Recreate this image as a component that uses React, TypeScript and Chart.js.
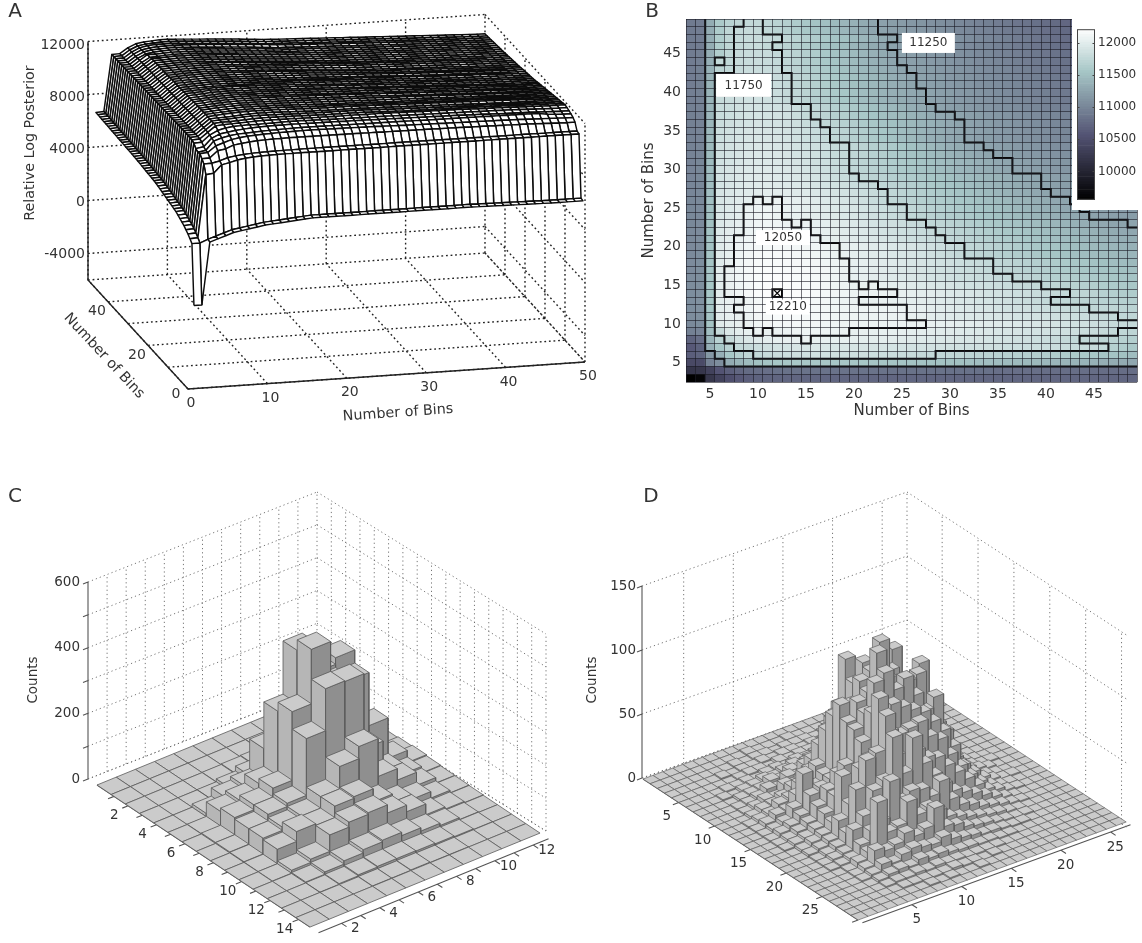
import React, { useEffect, useRef } from "react";
import { Chart, registerables } from "chart.js";
Chart.register(...registerables);

const FONT = '"DejaVu Sans", sans-serif';
const INK = "#333";

// Panel A / B: log posterior as (value - 9000) / 10. Rows run y = 49 .. 3, columns x = 3 .. 49.
const POSTERIOR_ROWS: number[][] = [
[190,192,232,258,268,272,276,276,273,269,265,261,257,253,249,245,241,236,231,226,223,220,218,215,213,210,207,205,202,199,197,194,192,189,186,184,181,178,176,173,171,168,165,163,160,158,155],
[190,192,232,260,272,277,278,277,273,269,265,261,257,253,249,245,241,236,231,226,224,221,219,216,214,211,208,206,203,201,198,196,193,190,188,185,183,180,177,175,172,170,167,165,162,160,157],
[190,192,233,261,272,277,279,279,278,276,273,269,265,261,257,253,249,245,241,236,231,226,224,221,218,216,213,210,208,205,202,199,197,194,191,189,186,183,180,178,175,172,170,167,164,162,159],
[190,192,233,262,273,277,279,280,276,274,270,266,262,258,254,250,246,241,236,231,226,224,221,219,216,214,211,209,206,204,201,199,196,194,191,189,186,184,181,179,176,174,171,169,166,164,161],
[191,193,234,263,273,278,280,280,279,276,273,269,265,261,257,253,249,245,241,236,231,226,224,221,219,216,214,211,209,206,203,201,198,196,193,191,188,186,183,181,178,175,173,170,168,165,163],
[191,193,235,276,274,278,280,281,279,276,273,269,265,261,257,253,249,245,241,236,231,226,224,222,219,217,214,212,209,207,204,202,199,197,194,192,189,187,184,182,179,177,174,172,170,167,165],
[191,194,236,270,274,278,281,281,280,277,274,270,266,262,258,254,250,246,242,238,234,230,226,224,221,219,216,214,211,209,206,204,201,199,196,194,191,189,186,184,181,179,176,174,172,169,167],
[192,194,237,277,279,281,283,283,282,280,277,274,270,266,262,258,254,250,246,242,238,234,230,226,224,221,219,216,214,211,209,206,204,201,199,196,194,191,189,186,184,181,179,176,174,171,169],
[192,195,238,278,280,282,284,284,283,281,277,274,270,266,262,258,254,250,246,242,238,234,230,226,224,222,219,217,214,212,209,207,205,202,200,197,195,192,190,187,185,183,180,178,175,173,171],
[193,195,238,278,281,283,285,285,284,281,277,274,270,266,263,259,255,251,247,243,239,235,232,229,226,224,221,219,216,214,211,209,206,204,201,199,196,194,191,189,186,184,181,179,178,175,173],
[193,196,239,279,281,284,286,286,285,282,277,274,270,266,263,259,255,251,247,243,239,235,232,229,226,224,222,219,217,214,212,210,207,205,202,200,198,195,193,190,188,186,183,181,178,177,176],
[194,196,240,280,282,285,287,288,287,286,284,281,277,274,270,266,262,258,254,250,246,242,238,234,230,226,224,221,219,217,214,212,209,207,205,202,200,197,195,193,190,188,185,183,181,180,178],
[194,197,241,280,283,286,288,289,288,287,285,281,277,274,271,267,264,260,257,253,250,246,243,239,236,232,229,226,224,221,219,216,214,211,209,206,204,201,199,196,194,191,189,186,184,183,181],
[195,197,241,281,284,287,289,290,289,288,286,284,280,277,274,271,267,264,260,257,253,250,246,243,239,236,232,229,226,224,221,219,216,214,211,209,206,204,201,199,196,194,191,189,186,185,183],
[195,198,242,282,285,288,290,291,290,289,287,285,283,280,277,274,270,266,263,259,255,251,247,243,239,235,232,229,226,224,222,219,217,214,212,209,207,205,202,200,197,195,193,191,189,187,186],
[196,198,243,283,286,289,291,292,291,290,288,286,283,280,277,274,270,266,263,259,255,251,247,243,239,235,232,229,226,224,222,219,217,215,212,210,208,205,203,201,198,196,194,192,190,189,188],
[196,199,244,284,287,290,292,293,293,292,290,288,286,284,282,279,277,274,270,266,263,259,255,251,247,243,239,235,232,229,226,224,222,219,217,214,212,210,207,205,203,200,198,196,194,192,191],
[197,199,245,285,288,291,293,294,294,293,291,289,287,285,282,279,277,274,271,267,264,260,257,253,250,246,243,239,236,232,229,226,224,222,219,217,215,212,210,208,206,203,201,199,197,195,194],
[197,200,245,286,289,292,294,295,295,294,292,290,288,285,283,280,277,274,271,268,265,262,259,256,253,250,247,244,241,238,235,232,229,226,224,222,220,217,215,213,211,208,206,204,202,199,197],
[198,200,246,287,290,293,295,296,296,295,293,291,289,286,283,280,277,274,271,268,265,262,259,256,253,250,247,244,241,238,235,232,229,226,224,222,220,218,216,214,212,210,208,206,204,202,200],
[198,201,247,288,291,294,296,297,297,296,295,293,291,289,286,283,280,277,274,271,269,266,263,261,258,255,253,250,247,245,242,239,237,234,231,229,226,224,222,220,218,216,213,211,209,206,203],
[199,201,248,289,292,295,297,298,298,297,296,295,293,291,289,287,284,282,279,277,274,271,268,265,262,259,256,253,250,247,244,241,238,235,232,229,226,224,222,220,219,217,215,213,211,208,206],
[199,202,248,290,293,296,298,299,300,300,299,297,296,294,292,290,287,285,282,279,277,274,271,268,265,262,259,256,253,250,247,244,241,238,235,232,229,226,224,222,220,218,216,214,213,211,209],
[200,202,249,291,294,298,301,306,304,306,304,302,300,298,295,293,290,287,284,280,277,274,271,269,266,263,261,258,255,253,250,247,245,242,239,237,234,231,229,226,224,222,220,218,216,214,212],
[200,203,249,292,296,300,306,307,308,306,304,303,301,299,297,295,293,291,288,285,282,279,277,274,271,268,265,262,259,256,253,251,248,245,242,239,236,234,231,228,226,224,222,220,219,217,215],
[201,203,250,293,297,301,306,308,309,307,304,303,302,300,298,296,294,292,289,286,283,280,277,274,271,269,266,263,261,258,255,253,250,247,245,242,239,237,234,231,229,226,224,223,222,220,219],
[201,204,250,294,298,302,306,309,310,309,306,304,306,303,301,299,297,295,292,289,286,284,281,279,277,274,272,269,267,264,262,259,257,254,252,249,247,244,241,239,236,234,231,229,226,225,224],
[202,204,251,295,299,303,307,310,311,311,309,308,307,304,302,300,298,296,294,291,288,285,283,281,279,277,274,272,269,267,265,262,260,257,255,253,250,248,245,243,241,238,236,233,231,229,228],
[202,205,252,296,301,306,309,312,313,313,312,310,308,306,303,301,299,297,295,293,290,288,285,283,281,279,277,274,272,269,267,265,262,260,258,255,253,251,248,246,244,241,239,237,235,233,232],
[203,205,252,297,302,307,310,313,314,314,313,312,311,309,308,306,304,302,300,298,296,294,292,290,287,285,282,279,277,274,272,269,267,265,262,260,257,255,253,250,248,246,244,242,240,238,236],
[203,206,253,297,303,308,311,314,315,315,314,313,312,310,308,306,304,302,300,298,296,294,292,290,288,285,282,279,277,274,272,270,267,265,263,261,258,256,254,252,249,247,246,245,243,241,240],
[204,206,253,298,304,309,312,315,316,316,315,314,313,311,310,308,306,304,302,300,298,296,294,292,290,288,286,284,282,280,278,276,274,272,269,267,265,263,261,259,257,255,252,250,248,246,244],
[204,207,254,299,305,310,313,316,317,317,316,315,314,312,311,309,306,304,302,300,298,296,294,292,290,288,286,284,282,280,278,276,274,272,270,268,266,264,262,260,258,256,254,253,252,250,249],
[205,207,254,299,305,310,313,316,318,318,317,316,315,313,311,309,306,304,302,300,298,296,295,293,291,289,287,285,283,282,280,279,277,276,274,272,270,268,266,265,263,261,259,258,256,254,253],
[205,208,255,300,305,310,313,316,318,319,318,317,316,314,312,310,308,306,304,305,303,301,299,297,295,293,292,290,288,286,285,283,281,280,278,277,276,274,272,270,268,266,264,262,260,259,257],
[206,208,255,300,305,310,314,317,319,321,319,318,317,315,313,311,309,307,306,306,306,305,304,302,300,299,297,295,293,292,290,288,287,285,283,282,280,279,277,276,274,272,270,267,265,263,261],
[206,209,255,300,304,304,308,313,317,319,318,317,315,313,311,309,307,306,304,304,304,303,303,301,299,298,296,294,292,291,289,288,286,284,282,280,278,276,274,273,271,270,269,268,267,266,265],
[206,209,255,300,304,306,310,314,317,318,317,316,315,313,311,310,309,308,308,308,307,307,306,304,302,300,298,296,295,293,291,290,288,286,285,284,282,281,280,278,277,276,274,273,272,270,269],
[205,208,254,299,303,304,307,311,314,316,316,315,314,313,312,310,309,308,307,307,307,306,306,304,302,300,298,296,295,294,293,292,291,290,289,288,287,286,285,284,283,281,279,277,276,274,273],
[203,206,252,297,301,304,306,309,311,313,313,313,312,311,310,309,308,308,307,307,307,307,306,306,306,304,303,302,301,300,299,298,297,296,295,293,292,290,289,288,287,285,283,281,279,278,277],
[195,198,248,278,293,300,303,306,304,306,307,308,309,309,308,307,306,304,304,303,303,302,302,301,300,299,298,297,296,295,294,293,292,291,290,289,288,287,286,285,284,282,280,278,276,274,272],
[170,180,240,268,277,287,293,298,301,303,304,304,306,304,304,303,303,302,301,300,300,299,298,297,296,295,294,293,292,291,290,289,288,287,285,284,283,281,279,277,276,274,273,271,269,267,265],
[160,168,235,255,268,276,278,282,285,288,289,291,292,293,293,292,292,291,291,290,290,289,289,288,288,287,287,286,286,285,285,284,284,283,283,282,282,281,281,280,280,279,278,276,266,262,258],
[165,170,215,235,255,265,272,276,279,281,283,284,285,286,286,286,285,284,284,283,282,281,280,279,277,276,274,273,272,271,270,269,268,267,266,265,264,263,262,261,260,258,256,254,252,250,247],
[143,145,195,205,230,238,245,250,253,255,256,257,257,257,256,256,256,255,255,254,254,253,253,252,252,251,251,250,250,249,248,248,247,246,245,244,243,242,241,240,239,238,236,234,232,230,228],
[120,122,135,155,165,172,176,178,180,181,182,182,183,183,183,183,183,183,183,183,183,182,182,182,182,182,182,181,181,181,181,181,180,180,180,180,180,179,179,179,179,179,178,178,178,178,178],
[56,62,122,135,150,160,165,168,170,171,172,172,172,172,172,172,172,172,172,172,172,172,172,172,172,172,172,172,172,172,172,172,172,172,172,172,172,172,172,172,172,172,172,172,172,172,172],
];
// Panel A rim of the surface: z along x = 1 for y = 1..50, and along y = 1 for x = 1..50.
const RIM_ALONG_Y = [100,4600,4800,5000,5150,5300,5400,5500,5600,5700,5750,5800,5850,5900,5950,6000,6050,6100,6150,6200,6220,6240,6260,6280,6300,6320,6340,6360,6380,6400,6410,6420,6430,6440,6450,6460,6470,6480,6490,6500,6510,6520,6530,6540,6550,6560,6570,6580,6590,6600];
const RIM_ALONG_X = [100,4600,4800,5000,5200,5400,5500,5600,5700,5800,5850,5900,5950,6000,6050,6100,6100,6100,6100,6100,6100,6100,6100,6100,6100,6100,6100,6100,6100,6100,6100,6100,6100,6100,6100,6100,6090,6080,6070,6060,6050,6040,6030,6020,6010,6000,6000,6000,6000,6000];
const CONTOUR_LEVELS = [11250, 11750, 12050, 12210];
const CONTOUR_LABELS = [
  { text: "11750", x: 8.5, y: 40.9, w: 55, h: 23 },
  { text: "11250", x: 27.75, y: 46.4, w: 53, h: 20 },
  { text: "12050", x: 12.6, y: 21.2, w: 54, h: 15 },
  { text: "12210", x: 13.1, y: 12.2, w: 44, h: 15 },
];
const BIN_TICKS = [5, 10, 15, 20, 25, 30, 35, 40, 45];
const COLORBAR_TICKS = [10000, 10500, 11000, 11500, 12000];
const COLOR_MIN = 9560;
const COLOR_MAX = 12210;

// Panel C: counts, rows r = 0..14, columns c = 0..11.
const COUNTS_C: number[][] = [
[0,0,0,0,0,0,0,0,0,0,0,0],
[0,0,0,0,0,0,0,1,1,0,0,0],
[0,0,0,0,1,3,5,8,5,2,1,0],
[0,0,0,1,10,25,30,40,25,15,3,1],
[0,0,10,35,46,136,110,70,60,40,10,2],
[0,1,45,55,82,278,440,350,370,90,30,5],
[0,3,55,70,97,306,472,340,330,168,45,8],
[0,3,50,70,80,253,381,379,150,60,25,5],
[0,2,50,60,70,105,173,210,95,60,20,3],
[0,1,45,75,70,105,110,70,45,30,10,2],
[0,1,10,20,70,85,90,65,45,12,5,1],
[0,0,3,10,20,30,35,25,15,8,2,0],
[0,0,1,3,6,8,8,7,5,3,1,0],
[0,0,0,0,1,1,2,1,1,0,0,0],
[0,0,0,0,0,0,0,0,0,0,0,0],
];
// Panel D: counts, rows r = 0..29, columns c = 0..26.
const COUNTS_D: number[][] = [
[0,0,0,0,0,0,0,0,0,0,0,0,0,0,0,0,0,0,0,0,0,0,0,0,0,0,0],
[0,0,0,0,0,0,0,0,0,1,0,0,0,1,0,0,0,0,0,0,0,0,0,0,0,0,0],
[0,0,0,0,0,0,0,1,0,1,1,0,1,1,1,0,1,0,0,0,0,0,0,0,0,0,0],
[0,0,0,0,0,1,0,1,1,2,1,2,2,1,2,1,1,1,0,0,0,0,0,0,0,0,0],
[0,0,0,0,0,0,1,2,2,1,3,2,3,3,2,2,2,1,1,0,1,0,0,0,0,0,0],
[0,0,0,0,1,1,2,1,3,4,3,5,4,5,4,3,2,3,1,1,0,0,0,0,0,0,0],
[0,0,0,1,0,2,3,5,4,6,8,6,8,5,6,6,4,3,2,1,1,0,0,0,0,0,0],
[0,0,0,0,2,3,4,8,6,10,9,14,10,12,9,10,6,5,3,2,1,1,0,0,0,0,0],
[0,0,0,1,2,4,8,6,12,10,18,15,24,20,16,18,10,8,6,4,2,1,0,0,0,0,0],
[0,0,0,1,3,6,5,12,10,22,18,35,28,30,32,22,25,14,10,8,3,1,1,0,0,0,0],
[0,0,0,2,5,6,9,14,18,30,25,55,40,60,45,50,30,28,15,10,6,3,1,0,0,0,0],
[0,0,1,3,5,10,12,20,28,45,55,70,75,85,70,68,50,40,22,15,8,4,2,1,0,0,0],
[0,0,1,4,8,9,18,24,35,60,70,110,85,95,90,85,75,55,35,20,10,6,2,1,0,0,0],
[0,0,1,3,6,14,38,26,32,75,80,95,108,100,95,110,80,70,40,25,12,5,3,1,0,0,0],
[0,0,1,4,7,12,25,28,32,87,85,100,105,125,100,90,88,97,45,22,14,6,3,1,1,0,0],
[0,0,1,3,6,10,20,30,40,77,90,95,123,100,95,92,95,70,50,28,15,7,4,2,0,0,0],
[0,0,1,3,5,9,18,29,50,75,85,106,111,95,101,85,70,78,48,24,12,6,3,1,0,0,0],
[0,0,0,2,5,8,15,48,40,69,89,80,90,85,80,75,65,55,40,22,14,7,3,1,1,0,0],
[0,0,0,2,4,7,20,30,55,60,104,75,70,72,74,60,55,40,28,18,10,5,2,1,0,0,0],
[0,0,0,1,3,6,14,45,65,68,94,60,42,58,50,47,38,30,22,14,8,5,2,1,0,0,0],
[0,0,0,1,3,5,20,28,45,50,81,50,75,52,40,30,22,18,14,10,6,3,1,0,0,0,0],
[0,0,0,1,2,4,12,20,25,53,35,40,38,30,39,22,15,12,8,6,4,2,1,0,0,0,0],
[0,0,0,0,1,5,10,46,20,22,38,25,28,22,15,12,9,7,5,4,2,1,0,0,0,0,0],
[0,0,0,0,1,4,15,12,14,20,15,18,31,14,12,8,6,5,3,2,1,1,0,0,0,0,0],
[0,0,0,0,1,3,8,6,10,12,10,9,12,8,6,5,3,3,2,1,1,0,0,0,0,0,0],
[0,0,0,0,0,2,4,5,4,7,5,6,4,3,3,2,2,1,1,0,0,0,0,0,0,0,0],
[0,0,0,0,0,1,2,2,3,2,3,2,2,1,1,1,1,0,0,0,0,0,0,0,0,0,0],
[0,0,0,0,0,0,1,1,1,1,1,2,1,1,0,1,0,0,0,0,0,0,0,0,0,0,0],
[0,0,0,0,0,0,0,0,1,0,1,0,0,1,0,0,0,0,0,0,0,0,0,0,0,0,0],
[0,0,0,0,0,0,0,0,0,0,0,0,0,0,0,0,0,0,0,0,0,0,0,0,0,0,0],
];

type Pt = { x: number; y: number };
type Label = { text: string; x: number; y: number; rot?: number; align?: CanvasTextAlign; size?: number };

const posterior = (x: number, y: number) => {
  const row = POSTERIOR_ROWS[49 - y];
  const v = row[x - 3] ?? row[row.length - 1];
  return 9000 + 10 * v;
};
const surfaceZ = (x: number, y: number) => {
  if (x < 3) return RIM_ALONG_Y[y - 1] + (x === 2 && y > 2 ? 40 : 0);
  if (y < 3) return RIM_ALONG_X[x - 1] + (y === 2 ? 40 : 0);
  return posterior(Math.min(x, 49), Math.min(y, 49));
};

const BONE = [[0, 0, 0, 0], [0.375, 0.325, 0.325, 0.4514], [0.75, 0.6528, 0.7778, 0.7778], [1, 1, 1, 1]];
const boneColor = (value: number) => {
  const t = Math.max(0, Math.min(1, (value - COLOR_MIN) / (COLOR_MAX - COLOR_MIN)));
  let i = 0;
  while (i < 2 && t > BONE[i + 1][0]) i++;
  const a = BONE[i], b = BONE[i + 1], f = (t - a[0]) / (b[0] - a[0]);
  const c = [1, 2, 3].map((k) => Math.round(255 * (a[k] + f * (b[k] - a[k]))));
  return `rgb(${c[0]},${c[1]},${c[2]})`;
};

const poly = (pts: Pt[], fill: string, stroke: string, width: number) => ({
  type: "line", data: [...pts, pts[0]], fill: "shape", backgroundColor: fill, borderColor: stroke,
  borderWidth: width, pointRadius: 0, tension: 0, borderJoinStyle: "round", clip: false,
});
const path = (pts: Pt[], color: string, width: number, dash: number[] = []) => ({
  type: "line", data: pts, fill: false, borderColor: color, borderWidth: width, borderDash: dash,
  pointRadius: 0, tension: 0, clip: false,
});
const GAP: Pt = { x: NaN, y: NaN };
const segs = (list: [Pt, Pt][]) => list.flatMap(([a, b]) => [a, b, GAP]);

const textPlugin = (labels: Label[]) => ({
  id: "texts",
  afterDraw(chart: any) {
    const { ctx, scales } = chart;
    ctx.save();
    ctx.fillStyle = INK;
    ctx.textBaseline = "middle";
    for (const l of labels) {
      ctx.save();
      ctx.translate(scales.x.getPixelForValue(l.x), scales.y.getPixelForValue(l.y));
      if (l.rot) ctx.rotate((l.rot * Math.PI) / 180);
      ctx.textAlign = l.align ?? "center";
      ctx.font = `${l.size ?? 13.5}px ${FONT}`;
      ctx.fillText(l.text, 0, 0);
      ctx.restore();
    }
    ctx.restore();
  },
});

const pagePixelOptions = (x0: number, y0: number, w: number, h: number) => ({
  responsive: false, animation: false, events: [],
  layout: { padding: 0 },
  plugins: { legend: { display: false }, tooltip: { enabled: false } },
  scales: {
    x: { type: "linear", min: x0, max: x0 + w, display: false },
    y: { type: "linear", min: y0, max: y0 + h, reverse: true, display: false },
  },
});

// ---------- Panel A ----------
const buildA = () => {
  const P = (x: number, y: number, z: number): Pt => ({
    x: 188 + (x / 50) * 397 - (y / 50) * 100,
    y: 389 - (x / 50) * 27 - (y / 50) * 109 - (z + 6000) * 0.01325,
  });
  const datasets: any[] = [];
  for (let y = 1; y < 50; y++) {
    for (let x = 1; x < 50; x++) {
      datasets.push(poly([
        P(x, y, surfaceZ(x, y)), P(x + 1, y, surfaceZ(x + 1, y)),
        P(x + 1, y + 1, surfaceZ(x + 1, y + 1)), P(x, y + 1, surfaceZ(x, y + 1)),
      ], "#ffffff", "#0c0c0c", 1.45));
    }
  }
  const grid: [Pt, Pt][] = [];
  const zs = [-6000, -4000, 0, 4000, 8000, 12000];
  const ks = [0, 10, 20, 30, 40, 50];
  for (const z of zs) {
    grid.push([P(0, 50, z), P(50, 50, z)], [P(50, 50, z), P(50, 0, z)]);
  }
  for (const k of ks) {
    grid.push([P(k, 50, -6000), P(k, 50, 12000)], [P(50, k, -6000), P(50, k, 12000)]);
    grid.push([P(k, 0, -6000), P(k, 50, -6000)], [P(0, k, -6000), P(50, k, -6000)]);
  }
  datasets.push(path(segs(grid), "#222", 1.4, [1.8, 2.8]));
  datasets.unshift(path([P(0, 50, 12000), P(0, 50, -6000), P(0, 0, -6000), P(50, 0, -6000)], "#222", 1.4));
  const labels: Label[] = [
    { text: "A", x: 15, y: 12, size: 20 },
    { text: "Relative Log Posterior", x: 30, y: 143, rot: -90, size: 14.3 },
    { text: "Number of Bins", x: 398, y: 413, rot: -4, size: 14.3 },
    { text: "Number of Bins", x: 104, y: 356, rot: 47, size: 14.3 },
    { text: "0", x: 176, y: 394, size: 14 },
  ];
  ["12000", "8000", "4000", "0", "-4000"].forEach((t, i) =>
    labels.push({ text: t, x: 85, y: 45 + i * 52.3, align: "right", size: 14 }));
  for (const k of ks) labels.push({ text: String(k), x: P(k, 0, -6000).x + 3, y: P(k, 0, -6000).y + 14.5, size: 14 });
  for (const k of [20, 40]) labels.push({ text: String(k), x: P(0, k, -6000).x - 11, y: P(0, k, -6000).y + 10, size: 14 });
  return { datasets, labels };
};

// ---------- Panels C and D ----------
type Hist = {
  counts: number[][]; org: Pt; rv: Pt; cv: Pt; zScale: number;
  wallL: Pt; wallK: Pt; wallR: Pt; zTop: number; zStep: number; zLabelStep: number;
  wallColT: number[]; wallRowT: number[];
  tickEvery: number; rowLabels: number[]; colLabels: number[];
  rowOff: Pt; colOff: Pt; zLabelX: number; letter: Label; title: Label; tickRowOrigin: number; tickColOrigin: number;
  edge: number;
};
const buildHist = (h: Hist) => {
  const rows = h.counts.length, cols = h.counts[0].length;
  const F = (c: number, r: number, z: number): Pt => ({
    x: h.org.x + r * h.rv.x + c * h.cv.x,
    y: h.org.y + r * h.rv.y + c * h.cv.y - z * h.zScale,
  });
  const datasets: any[] = [];
  const stroke = "#5a5a5a";
  for (let r = rows - 1; r >= 0; r--) {
    for (let c = 0; c < cols; c++) {
      const z = h.counts[r][c];
      datasets.push(poly([F(c, r, z), F(c + 1, r, z), F(c + 1, r + 1, z), F(c, r + 1, z)], "#cbcbcb", stroke, h.edge));
      if (z > 0) {
        datasets.push(poly([F(c, r + 1, z), F(c + 1, r + 1, z), F(c + 1, r + 1, 0), F(c, r + 1, 0)], "#8f8f8f", stroke, h.edge));
        datasets.push(poly([F(c, r, z), F(c, r + 1, z), F(c, r + 1, 0), F(c, r, 0)], "#b6b6b6", stroke, h.edge));
      }
    }
  }
  const up = (p: Pt, z: number): Pt => ({ x: p.x, y: p.y - z * h.zScale });
  const lerp = (a: Pt, b: Pt, t: number): Pt => ({ x: a.x + (b.x - a.x) * t, y: a.y + (b.y - a.y) * t });
  const grid: [Pt, Pt][] = [];
  for (let z = 0; z <= h.zTop; z += h.zStep) {
    grid.push([up(h.wallL, z), up(h.wallK, z)], [up(h.wallK, z), up(h.wallR, z)]);
  }
  for (const t of h.wallColT) { const p = lerp(h.wallL, h.wallK, t); grid.push([p, up(p, h.zTop)]); }
  for (const t of h.wallRowT) { const p = lerp(h.wallK, h.wallR, t); grid.push([p, up(p, h.zTop)]); }
  grid.push([h.wallL, h.wallK], [h.wallK, h.wallR]);
  datasets.push(path(segs(grid), "#666", 0.9, [1.2, 3]));

  const frontLeft = F(0, rows, 0);
  const axis: [Pt, Pt][] = [[up(h.wallL, 0), up(h.wallL, h.zTop)]];
  for (let z = 0; z <= h.zTop; z += h.zStep) {
    axis.push([up(h.wallL, z), { x: h.wallL.x - 5, y: up(h.wallL, z).y + 2 }]);
  }
  const rowTick = (k: number) => F(0, k + h.tickRowOrigin, 0);
  const colTick = (k: number) => F(k + h.tickColOrigin, rows, 0);
  const off = { x: h.rv.x * 0.6, y: h.rv.y * 0.6 };
  axis.push([{ x: frontLeft.x + off.x, y: frontLeft.y + off.y },
    { x: F(cols, rows, 0).x + off.x, y: F(cols, rows, 0).y + off.y }]);
  axis.push([F(0, 0, 0), frontLeft]);
  for (let k = h.tickEvery; k + h.tickRowOrigin <= rows; k += h.tickEvery) {
    const p = rowTick(k);
    axis.push([p, { x: p.x - h.cv.x * (6 / Math.abs(h.cv.x)), y: p.y + 2.3 }]);
  }
  for (let k = h.tickEvery; k + h.tickColOrigin <= cols; k += h.tickEvery) {
    const p = colTick(k);
    const q = { x: p.x + off.x, y: p.y + off.y };
    axis.push([q, { x: q.x + 5, y: q.y + 3.3 }]);
  }
  datasets.push(path(segs(axis), "#555", 1.1));

  const labels: Label[] = [h.letter, h.title];
  for (let z = 0; z <= h.zTop; z += h.zLabelStep) {
    labels.push({ text: String(z), x: h.zLabelX, y: up(h.wallL, z).y, align: "right" });
  }
  for (const k of h.rowLabels) {
    const p = rowTick(k);
    labels.push({ text: String(k), x: p.x + h.rowOff.x, y: p.y + h.rowOff.y });
  }
  for (const k of h.colLabels) {
    const p = colTick(k);
    labels.push({ text: String(k), x: p.x + h.colOff.x, y: p.y + h.colOff.y });
  }
  return { datasets, labels };
};

const HIST_C: Hist = {
  counts: COUNTS_C, org: { x: 97, y: 785 }, rv: { x: 14.2, y: 9.47 }, cv: { x: 19.17, y: -7.83 }, zScale: 0.3283,
  wallL: { x: 88, y: 779 }, wallK: { x: 317, y: 689 }, wallR: { x: 546, y: 831 }, zTop: 600, zStep: 100, zLabelStep: 200,
  wallColT: [1, 2, 3, 4, 5, 6, 7, 8, 9, 10, 11, 12].map((i) => i / 12),
  wallRowT: [1, 2, 3, 4, 5, 6, 7, 8, 9, 10, 11, 12, 13, 14, 15, 16].map((i) => i / 16),
  tickEvery: 1, rowLabels: [2, 4, 6, 8, 10, 12, 14], colLabels: [2, 4, 6, 8, 10, 12],
  rowOff: { x: -14, y: 10 }, colOff: { x: 3, y: 19 }, zLabelX: 80,
  letter: { text: "C", x: 15, y: 497, size: 20 }, title: { text: "Counts", x: 33, y: 680, rot: -90 },
  tickRowOrigin: 0.2, tickColOrigin: 0.2, edge: 0.8,
};
const HIST_D: Hist = {
  counts: COUNTS_D, org: { x: 643, y: 779 }, rv: { x: 7.17, y: 4.7 }, cv: { x: 9.93, y: -3.63 }, zScale: 1.28,
  wallL: { x: 642, y: 778 }, wallK: { x: 907, y: 684 }, wallR: { x: 1128, y: 828 }, zTop: 150, zStep: 50, zLabelStep: 50,
  wallColT: [4.2, 9.2, 14.2, 19.2, 24.2, 26.7].map((c) => c / 26.7),
  wallRowT: [4.9, 9.9, 14.9, 19.9, 24.9, 29.9].map((r) => r / 30.8),
  tickEvery: 5, rowLabels: [5, 10, 15, 20, 25], colLabels: [5, 10, 15, 20, 25],
  rowOff: { x: -12, y: 14 }, colOff: { x: 9, y: 18 }, zLabelX: 636,
  letter: { text: "D", x: 651, y: 497, size: 20 }, title: { text: "Counts", x: 592, y: 680, rot: -90 },
  tickRowOrigin: 0, tickColOrigin: 0, edge: 0.65,
};

// ---------- Panel B ----------
const COL_BINS = Array.from({ length: 47 }, (_, i) => i + 3);
const ROW_BINS = [...COL_BINS];
const contour = (level: number) => {
  const list: [Pt, Pt][] = [];
  for (const y of ROW_BINS) {
    for (const x of COL_BINS) {
      const inside = posterior(x, y) >= level;
      if (x < 49 && inside !== (posterior(x + 1, y) >= level)) {
        list.push([{ x: x + 0.5, y: y - 0.5 }, { x: x + 0.5, y: y + 0.5 }]);
      }
      if (y < 49 && inside !== (posterior(x, y + 1) >= level)) {
        list.push([{ x: x - 0.5, y: y + 0.5 }, { x: x + 0.5, y: y + 0.5 }]);
      }
    }
  }
  return segs(list);
};

const buildBConfig = () => {
  const bars = ROW_BINS.map((y) => ({
    type: "bar", order: 2, xAxisID: "x", yAxisID: "y",
    data: COL_BINS.map(() => [y - 0.5, y + 0.5]),
    backgroundColor: COL_BINS.map((x) => boneColor(posterior(x, y))),
    borderWidth: 0, barPercentage: 1, categoryPercentage: 1, grouped: false,
  }));
  const lines = CONTOUR_LEVELS.map((l) => ({
    type: "line", order: 1, xAxisID: "xl", yAxisID: "y", data: contour(l), fill: false,
    borderColor: "#0a0a0a", borderWidth: 2, borderCapStyle: "square", pointRadius: 0, tension: 0, spanGaps: false,
  }));
  const marker = {
    type: "line", order: 0, xAxisID: "xl", yAxisID: "y", data: [{ x: 12, y: 14 }], showLine: false,
    pointStyle: "crossRot", pointRadius: 4.5, pointBorderWidth: 1.3, pointBorderColor: "#0a0a0a",
  };
  const edges = [2.5, ...ROW_BINS.map((v) => v + 0.5)];
  const gridColor = "rgba(25,25,35,0.6)";
  const font = { family: FONT, size: 14 };
  const titleFont = { family: FONT, size: 15 };
  return {
    type: "bar",
    data: { labels: COL_BINS.map(String), datasets: [...bars, ...lines, marker] },
    options: {
      responsive: false, animation: false, events: [],
      layout: { padding: { top: 19, left: 0, right: 0, bottom: 0 } },
      plugins: { legend: { display: false }, tooltip: { enabled: false } },
      scales: {
        x: {
          type: "category", offset: true, position: "bottom",
          grid: { offset: true, z: 1, color: gridColor, lineWidth: 1, drawTicks: false },
          border: { display: false },
          ticks: {
            autoSkip: false, maxRotation: 0, padding: 4, color: INK, font,
            callback(this: any, v: any) { const t = Number(this.getLabelForValue(v)); return BIN_TICKS.includes(t) ? String(t) : ""; },
          },
          title: { display: true, text: "Number of Bins", color: INK, font: titleFont, padding: 0 },
          afterFit(s: any) { s.height = 38; s.paddingLeft = 0; s.paddingRight = 0; },
        },
        xl: { type: "linear", min: 2.5, max: 49.5, display: false, position: "bottom", offset: false, grid: { offset: false } },
        y: {
          type: "linear", min: 2.5, max: 49.5, position: "left",
          grid: { display: false, drawTicks: false }, border: { display: false },
          afterBuildTicks(s: any) { s.ticks = BIN_TICKS.map((value) => ({ value })); },
          ticks: { padding: 5, color: INK, font, autoSkip: false },
          title: { display: true, text: "Number of Bins", color: INK, font: titleFont, padding: 0 },
          afterFit(s: any) { s.width = 46; s.paddingTop = 0; s.paddingBottom = 0; },
        },
        yg: {
          type: "linear", min: 2.5, max: 49.5, position: "left",
          grid: { z: 1, color: gridColor, lineWidth: 1, drawTicks: false }, border: { display: false },
          afterBuildTicks(s: any) { s.ticks = edges.map((value) => ({ value })); },
          ticks: { display: false },
          afterFit(s: any) { s.width = 0; },
        },
      },
    },
    plugins: [{
      id: "contourLabels",
      afterDraw(chart: any) {
        const { ctx, scales } = chart;
        ctx.save();
        ctx.textAlign = "center";
        ctx.textBaseline = "middle";
        ctx.font = `12px ${FONT}`;
        for (const l of CONTOUR_LABELS) {
          const px = scales.xl.getPixelForValue(l.x), py = scales.y.getPixelForValue(l.y);
          ctx.fillStyle = "#fff";
          ctx.fillRect(px - l.w / 2, py - l.h / 2, l.w, l.h);
          ctx.fillStyle = INK;
          ctx.fillText(l.text, px, py);
        }
        ctx.fillStyle = INK;
        ctx.font = `20px ${FONT}`;
        ctx.fillText("B", 12, 12);
        ctx.restore();
      },
    }],
  };
};

const buildColorbarConfig = () => {
  const steps = Array.from({ length: 66 }, (_, i) => COLOR_MIN + (i * (COLOR_MAX - COLOR_MIN)) / 66);
  const span = (COLOR_MAX - COLOR_MIN) / 66;
  return {
    type: "bar",
    data: {
      labels: [""],
      datasets: steps.map((s) => ({
        data: [[s, s + span]], backgroundColor: boneColor(s + span / 2), borderWidth: 0,
        barPercentage: 1, categoryPercentage: 1, grouped: false,
      })),
    },
    options: {
      responsive: false, animation: false, events: [],
      layout: { padding: { top: 7, left: 5, right: 0, bottom: 3 } },
      plugins: { legend: { display: false }, tooltip: { enabled: false } },
      scales: {
        x: { type: "category", display: false, offset: true },
        y: {
          type: "linear", position: "right", min: COLOR_MIN, max: COLOR_MAX,
          grid: { display: false, drawTicks: false }, border: { display: false },
          afterBuildTicks(s: any) { s.ticks = COLORBAR_TICKS.map((value) => ({ value })); },
          ticks: { padding: 3, color: INK, font: { family: FONT, size: 12 }, crossAlign: "near", callback: (v: any) => String(v) },
          afterFit(s: any) { s.width = 47; },
        },
      },
    },
    plugins: [
      {
        id: "paper",
        beforeDraw(chart: any) { chart.ctx.fillStyle = "#fff"; chart.ctx.fillRect(0, 0, chart.width, chart.height); },
        afterDraw(chart: any) {
          const { ctx, chartArea: a, scales } = chart;
          ctx.save();
          ctx.strokeStyle = "#444";
          ctx.lineWidth = 1;
          ctx.strokeRect(a.left + 0.5, a.top + 0.5, a.width - 1, a.height - 1);
          for (const v of COLORBAR_TICKS) {
            const p = Math.round(scales.y.getPixelForValue(v)) + 0.5;
            ctx.beginPath();
            ctx.moveTo(a.left, p); ctx.lineTo(a.left + 2.5, p);
            ctx.moveTo(a.right, p); ctx.lineTo(a.right - 2.5, p);
            ctx.stroke();
          }
          ctx.restore();
        },
      },
    ],
  };
};

const Cv: React.FC<{ left: number; top: number; w: number; h: number; make: () => any }> = ({ left, top, w, h, make }) => {
  const ref = useRef<HTMLCanvasElement>(null);
  useEffect(() => {
    const chart = new Chart(ref.current as any, make());
    return () => chart.destroy();
  }, []);
  return (
    <canvas ref={ref} width={w} height={h}
      style={{ position: "absolute", left, top, width: w, height: h, display: "block", filter: "blur(0.4px)" }} />
  );
};

const pixelChart = (x0: number, y0: number, w: number, h: number, build: () => { datasets: any[]; labels: Label[] }) => () => {
  const { datasets, labels } = build();
  return { type: "line", data: { datasets }, options: pagePixelOptions(x0, y0, w, h), plugins: [textPlugin(labels)] };
};

export default function App() {
  return (
    <div style={{ position: "absolute", left: 0, top: 0, width: 1142, height: 943, overflow: "hidden", background: "#fff" }}>
      <Cv left={0} top={0} w={640} h={440} make={pixelChart(0, 0, 640, 440, buildA)} />
      <Cv left={640} top={0} w={503} h={420} make={buildBConfig} />
      <Cv left={1072} top={19} w={70} h={191} make={buildColorbarConfig} />
      <Cv left={0} top={440} w={572} h={503} make={pixelChart(0, 440, 572, 503, () => buildHist(HIST_C))} />
      <Cv left={572} top={440} w={570} h={503} make={pixelChart(572, 440, 570, 503, () => buildHist(HIST_D))} />
    </div>
  );
}
